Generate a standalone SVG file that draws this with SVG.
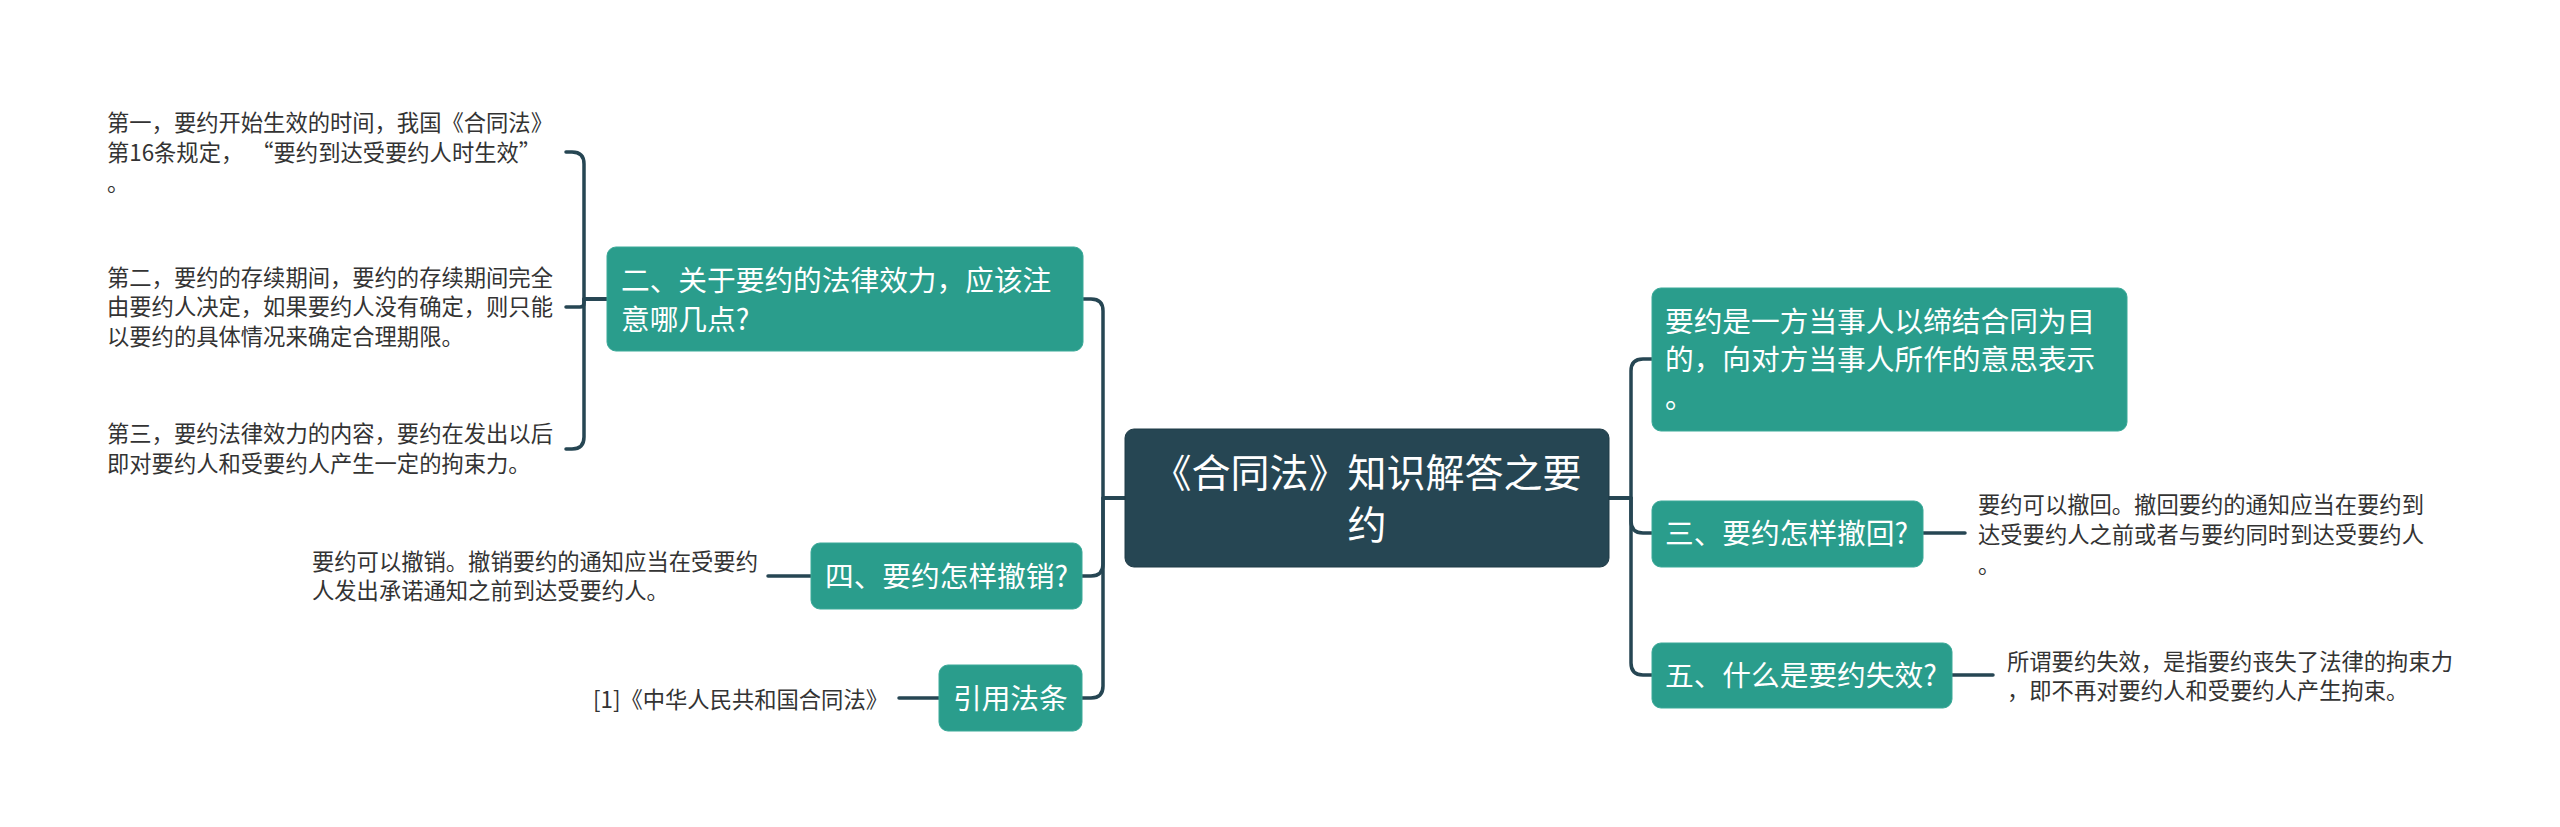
<svg xmlns="http://www.w3.org/2000/svg" width="2560" height="827" viewBox="0 0 2560 827">
<style>
.bg{fill:#ffffff}
text{text-spacing-trim:space-all;font-feature-settings:"chws" 0,"halt" 0,"palt" 0;font-kerning:none}
.node rect{fill:#2a9d8c;stroke:#3aa998;stroke-width:1}
.root rect{fill:#264653;stroke:#1f3b46;stroke-width:1}
.nt{font-family:"Noto Sans CJK SC","Noto Sans",sans-serif;font-size:28.7px;fill:#ffffff}
.rt{font-family:"Noto Sans CJK SC","Noto Sans",sans-serif;font-size:39px;fill:#ffffff;text-anchor:middle}
.lt{font-family:"Noto Sans CJK SC","Noto Sans",sans-serif;font-size:22.3px;fill:#333333}
.conn path{fill:none;stroke:#264653;stroke-width:3.5;stroke-linecap:round;stroke-linejoin:round}
</style>
<rect class="bg" x="0" y="0" width="2560" height="827"/>
<g id="connectors" class="conn">
<path d="M1609,498 H1631 V371 Q1631,359 1643,359 H1652"/>
<path d="M1609,498 H1631 V521 Q1631,533 1643,533 H1652"/>
<path d="M1609,498 H1631 V663 Q1631,675 1643,675 H1652"/>
<path d="M1125,498 H1103 V311 Q1103,299 1091,299 H1083"/>
<path d="M1125,498 H1103 V564 Q1103,576 1091,576 H1082"/>
<path d="M1125,498 H1103 V686 Q1103,698 1091,698 H1082"/>
<path d="M607,299 H584 V164 Q584,152 572,152 H566"/>
<path d="M607,299 H584 V303 Q584,307 580,307 H566"/>
<path d="M607,299 H584 V437 Q584,449 572,449 H566"/>
<path d="M811,576 H768"/>
<path d="M939,698 H899"/>
<path d="M1923,533 H1965"/>
<path d="M1952,675 H1993"/>
</g>
<g id="root" class="root">
<rect x="1125" y="429" width="484" height="138" rx="9"/>
<text class="rt" x="1367" y="487">《合同法》知识解答之要</text>
<text class="rt" x="1367" y="539">约</text>
</g>
<g id="node-definition" class="node">
<rect x="1652" y="288" width="475" height="143" rx="9"/>
<text class="nt" x="1665" y="332">要约是一方当事人以缔结合同为目</text>
<text class="nt" x="1665" y="370">的，向对方当事人所作的意思表示</text>
<text class="nt" x="1665" y="408">。</text>
</g>
<g id="node-withdraw" class="node">
<rect x="1652" y="501" width="271" height="66" rx="9"/>
<text class="nt" x="1665" y="544">三、要约怎样撤回?</text>
</g>
<g id="node-invalid" class="node">
<rect x="1652" y="643" width="300" height="65" rx="9"/>
<text class="nt" x="1665" y="686">五、什么是要约失效?</text>
</g>
<g id="node-effect" class="node">
<rect x="607" y="247" width="476" height="104" rx="9"/>
<text class="nt" x="621" y="291">二、关于要约的法律效力，应该注</text>
<text class="nt" x="621" y="330">意哪几点?</text>
</g>
<g id="node-revoke" class="node">
<rect x="811" y="543" width="271" height="66" rx="9"/>
<text class="nt" x="825" y="587">四、要约怎样撤销?</text>
</g>
<g id="node-law" class="node">
<rect x="939" y="665" width="143" height="66" rx="9"/>
<text class="nt" x="953" y="709">引用法条</text>
</g>
<g id="leaf-1">
<text class="lt" x="107" y="131">第一，要约开始生效的时间，我国《合同法》</text>
<text class="lt" x="107" y="161">第16条规定，<tspan dx="8">“要约到达受要约人时生效”</tspan></text>
<text class="lt" x="107" y="191">。</text>
</g>
<g id="leaf-2">
<text class="lt" x="107" y="286">第二，要约的存续期间，要约的存续期间完全</text>
<text class="lt" x="107" y="315">由要约人决定，如果要约人没有确定，则只能</text>
<text class="lt" x="107" y="345">以要约的具体情况来确定合理期限。</text>
</g>
<g id="leaf-3">
<text class="lt" x="107" y="442">第三，要约法律效力的内容，要约在发出以后</text>
<text class="lt" x="107" y="472">即对要约人和受要约人产生一定的拘束力。</text>
</g>
<g id="leaf-revoke">
<text class="lt" x="312" y="570">要约可以撤销。撤销要约的通知应当在受要约</text>
<text class="lt" x="312" y="599">人发出承诺通知之前到达受要约人。</text>
</g>
<g id="leaf-law">
<text class="lt" x="593" y="708">[1]《中华人民共和国合同法》</text>
</g>
<g id="leaf-withdraw">
<text class="lt" x="1978" y="513">要约可以撤回。撤回要约的通知应当在要约到</text>
<text class="lt" x="1978" y="543">达受要约人之前或者与要约同时到达受要约人</text>
<text class="lt" x="1978" y="573">。</text>
</g>
<g id="leaf-invalid">
<text class="lt" x="2007" y="670">所谓要约失效，是指要约丧失了法律的拘束力</text>
<text class="lt" x="2007" y="699">，即不再对要约人和受要约人产生拘束。</text>
</g>
</svg>
